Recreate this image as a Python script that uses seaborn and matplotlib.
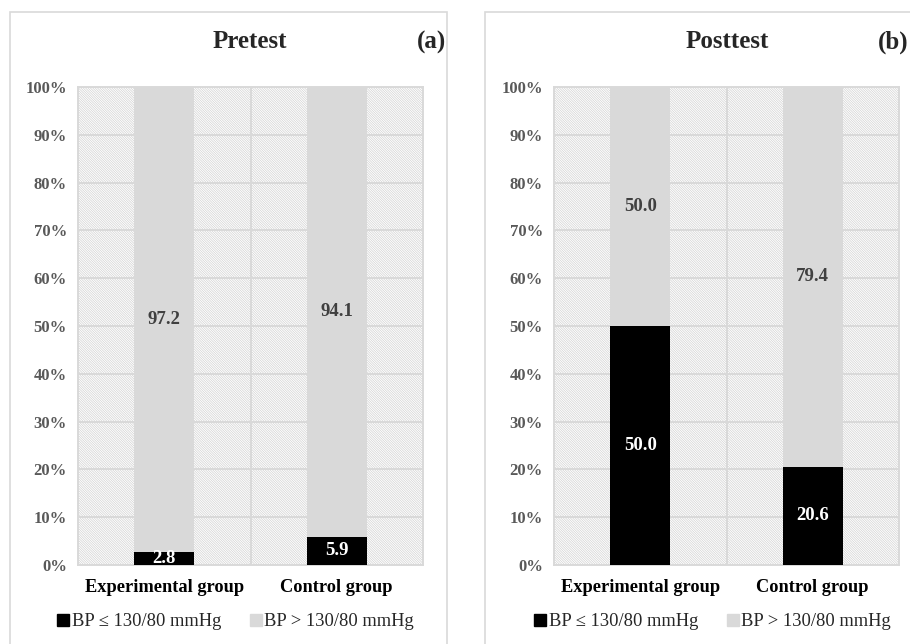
import pandas as pd
import matplotlib.pyplot as plt
import seaborn as sns
from matplotlib.patches import Rectangle
from matplotlib.lines import Line2D

# values (percent)
groups = ['Experimental group', 'Control group']
pre_low = [2.8, 5.9]
pre_high = [97.2, 94.1]
post_low = [50.0, 20.6]
post_high = [50.0, 79.4]
legend_labels = ['BP \u2264 130/80 mmHg', 'BP > 130/80 mmHg']

sns.set_theme(style='white')
plt.rcParams['font.family'] = ['Liberation Serif', 'DejaVu Serif']
plt.rcParams['hatch.linewidth'] = 0.5

BLACK = '#000000'
GREY = '#d9d9d9'
GRID = '#d9d9d9'

fig = plt.figure(figsize=(9.1, 6.44), dpi=100)

# outer boxes around each panel
fig.add_artist(Rectangle((10 / 910, -0.05), 437 / 910, 1.05 - 12 / 644, transform=fig.transFigure,
                         fill=False, edgecolor='#d9d9d9', lw=1.2))
fig.add_artist(Rectangle((485 / 910, -0.05), 0.6, 1.05 - 12 / 644, transform=fig.transFigure,
                         fill=False, edgecolor='#d9d9d9', lw=1.2))

panels = [
    ('Pretest', '(a)', pre_low, pre_high, 78 / 910, 250, 432),
    ('Posttest', '(b)', post_low, post_high, 554 / 910, 727, 893),
]

for title, tag, low, high, left, title_x, tag_x in panels:
    df = pd.DataFrame({'group': groups, 'low': low, 'high': high})
    df['total'] = df['low'] + df['high']

    ax = fig.add_axes([left, 1 - 565 / 644, 345 / 910, 478 / 644])
    # fine hatched plot background
    ax.add_patch(Rectangle((0, 0), 1, 1, transform=ax.transAxes, facecolor='white',
                           edgecolor='#d2d2d2', hatch='\\' * 14, lw=0, zorder=0))

    sns.barplot(data=df, x='group', y='total', color=GREY, width=0.35, ax=ax,
                saturation=1, zorder=3, linewidth=0)
    sns.barplot(data=df, x='group', y='low', color=BLACK, width=0.35, ax=ax,
                saturation=1, zorder=3, linewidth=0)

    ax.set_xlim(-0.5, 1.5)
    ax.set_ylim(0, 100)
    ax.set_yticks(range(0, 101, 10))
    ax.set_yticklabels([f'{v}%' for v in range(0, 101, 10)], fontsize=12,
                       fontweight='bold', color='#595959')
    ax.set_xticks([0, 1])
    ax.set_xticklabels(groups, fontsize=13.2, fontweight='bold', color='black')
    ax.set_xticks([0.5], minor=True)
    ax.tick_params(axis='both', length=0, pad=8)
    ax.tick_params(axis='x', pad=10)
    ax.set_xlabel('')
    ax.set_ylabel('')
    ax.yaxis.grid(True, color=GRID, lw=1.4, zorder=1)
    ax.xaxis.grid(True, which='minor', color=GRID, lw=1.4, zorder=1)
    ax.set_axisbelow(True)
    for sp in ax.spines.values():
        sp.set_color(GRID)
        sp.set_linewidth(1.4)

    # value labels in the middle of each segment
    for i in range(len(groups)):
        ax.text(i, low[i] / 2, f'{low[i]:.1f}', ha='center', va='center', color='white',
                fontsize=13.5, fontweight='bold', zorder=5)
        ax.text(i, low[i] + high[i] / 2, f'{high[i]:.1f}', ha='center', va='center',
                color='#404040', fontsize=13.5, fontweight='bold', zorder=5)

    fig.text(title_x / 910, 1 - 42 / 644, title, ha='center', va='center',
             fontsize=18, fontweight='bold')
    fig.text(tag_x / 910, 1 - 42 / 644, tag, ha='center', va='center',
             fontsize=18, fontweight='bold')

    handles = [Line2D([], [], marker='s', ls='', color=BLACK, markersize=8),
               Line2D([], [], marker='s', ls='', color=GREY, markersize=8)]
    ax.legend(handles, legend_labels, loc='center', ncol=2, frameon=False,
              bbox_to_anchor=((title_x - 14) / 910, 1 - 622 / 644),
              bbox_transform=fig.transFigure, fontsize=13.3, handlelength=0.55,
              handletextpad=0.2, columnspacing=1.6)

fig.savefig('out.png', dpi=100)
